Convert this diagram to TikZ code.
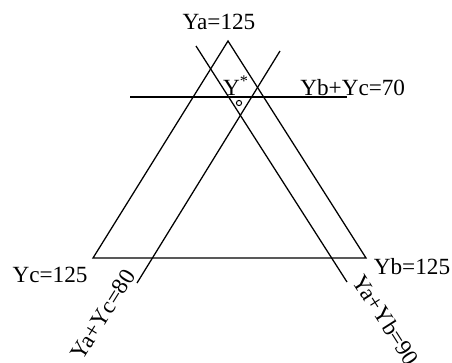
\documentclass[tikz,border=0pt]{standalone}
\usepackage{fontspec}
\setmainfont{Liberation Serif}
\begin{document}
\begin{tikzpicture}[line width=0.9pt, font=\fontsize{16.5}{18}\selectfont]
        \useasboundingbox (0,0) rectangle (11.3,9.05);
        % triangle of the three corners
        \coordinate (ta) at (5.7,8.025);
        \coordinate (tb) at (9.15,2.6);
        \coordinate (tc) at (2.325,2.6);
        \draw (ta) -- (tb) -- (tc) -- cycle;
        % constraint lines
        \coordinate (bc1) at (3.25,6.625);
        \coordinate (bc2) at (8.675,6.625);
        \coordinate (ab1) at (4.9,7.9);
        \coordinate (ab2) at (8.675,2.0);
        \coordinate (ac1) at (7.0,7.775);
        \coordinate (ac2) at (3.425,1.975);
        \draw (bc1) -- (bc2);
        \draw (ab1) -- (ab2);
        \draw (ac1) -- (ac2);
        \draw[line width=0.7pt] (5.975,6.475) circle (0.065);
        \node (ystar) at (5.9,6.9) {Y\textsuperscript{*}};
        \node (la) at (5.475,8.5) {Ya=125};
        \node[anchor=base west] (lbc) at (7.375,6.675) {Yb+Yc=70};
        \node (lc) at (1.25,2.175) {Yc=125};
        \node (lb) at (10.3,2.375) {Yb=125};
        \node[rotate=58] (lac) at (2.575,1.175) {Ya+Yc=80};
        \node[rotate=-57.5] (lab) at (9.65,1.05) {Ya+Yb=90};
    \end{tikzpicture}
\end{document}
